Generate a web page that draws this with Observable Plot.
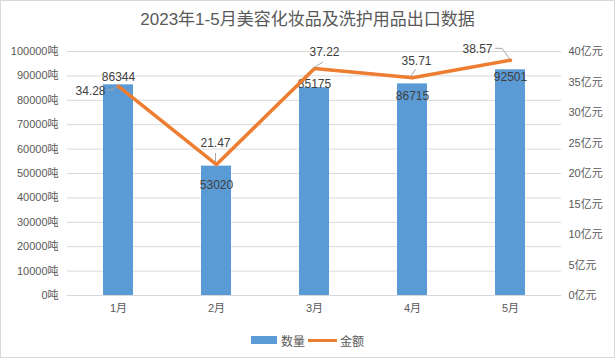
<!DOCTYPE html>
<html><head><meta charset="utf-8">
<script src="https://cdn.jsdelivr.net/npm/d3@7"></script>
<script src="https://cdn.jsdelivr.net/npm/@observablehq/plot@0.6"></script>
<style>
body{margin:0;background:#fff;}
#wrap{position:relative;width:615px;height:358px;overflow:hidden;font-family:"Liberation Sans","Noto Sans CJK SC",sans-serif;background:#fff;}
#frame{position:absolute;left:0;top:0;width:615px;height:358px;box-sizing:border-box;border:1px solid #d9d9d9;pointer-events:none;}
#title{height:40px;line-height:40px;text-align:center;font-size:17px;color:#595959;}
#chart svg{display:block;}
#legend{height:28px;display:flex;justify-content:center;align-items:center;font-size:12px;color:#595959;margin-top:-4px;}
.sw{display:inline-block;}
</style></head>
<body>
<div id="wrap">
  <div id="title">2023年1-5月美容化妆品及洗护用品出口数据</div>
  <div id="chart"></div>
  <div id="legend"><span class="sw" style="width:26px;height:8px;background:#5B9BD5;margin-right:4px"></span>数量<span class="sw" style="width:29px;height:3px;background:#ED7D31;margin:0 3px"></span>金额</div>
  <div id="frame"></div>
</div>
<script>
const months = ["1月", "2月", "3月", "4月", "5月"];
const quantity = [86344, 53020, 85175, 86715, 92501];
const amount = [34.28, 21.47, 37.22, 35.71, 38.57];
const leftTicks = [0, 10000, 20000, 30000, 40000, 50000, 60000, 70000, 80000, 90000, 100000];
const rightTicks = [0, 5, 10, 15, 20, 25, 30, 35, 40];

// label nudges (px) to mimic the reference label placement
const qtyDy = [-8, 19, -4, 12, 7];
const amtDx = [-28, -1, 10, 4, -33];
const amtDy = [5, -21, -16, -17, -11];
const leaders = [
  [[-11, 4], [-5, 4], [-1.5, 0]],
  [[-0.5, -11], [-0.5, -2]],
  [[-0.5, 0], [9, -6]],
  [[-1, -1], [3.5, -8]],
  [[-15, -11.4], [-8, -11.4], [0, -0.5]]
];

const K = 100000 / 40; // amount -> quantity scale factor
const table = months.map((m, i) => ({month: m, qty: quantity[i], amt: amount[i], i}));

const marks = [
  Plot.ruleY(leftTicks, {stroke: "#d9d9d9", strokeWidth: 1}),
  Plot.barY(table, {x: "month", y: "qty", fill: "#5B9BD5"}),
  ...table.map(d => Plot.text([d], {x: "month", y: "qty", text: d => String(d.qty), dy: qtyDy[d.i], fill: "#404040", fontSize: 12})),
  Plot.lineY(table, {x: "month", y: d => d.amt * K, stroke: "#ED7D31", strokeWidth: 3.5, strokeLinejoin: "round", strokeLinecap: "round"}),
  ...table.map(d => Plot.text([d], {x: "month", y: d => d.amt * K, text: d => d.amt.toFixed(2), dx: amtDx[d.i], dy: amtDy[d.i], fill: "#404040", fontSize: 12})),
  Plot.axisY({ticks: leftTicks, tickFormat: d => d + "吨", tickSize: 0, tickPadding: 9, label: null}),
  Plot.axisY({anchor: "right", ticks: rightTicks.map(v => v * K), tickFormat: d => (d / K) + "亿元", tickSize: 0, tickPadding: 7, label: null}),
  Plot.axisX({tickSize: 0, tickPadding: 9, label: null})
];

const chart = Plot.plot({
  width: 615,
  height: 290,
  marginTop: 11,
  marginBottom: 35,
  marginLeft: 67,
  marginRight: 54,
  style: {fontSize: "11px", fontFamily: '"Liberation Sans","Noto Sans CJK SC",sans-serif', color: "#595959", background: "transparent"},
  x: {domain: months, paddingInner: 0.69, paddingOuter: 0.345, align: 0.5},
  y: {domain: [0, 100000]},
  marks
});
document.getElementById("chart").append(chart);

// leader lines for the amount labels, positioned through Plot's scales
const sx = chart.scale("x"), sy = chart.scale("y");
const svg = d3.select(chart);
table.forEach(d => {
  const cx = sx.apply(d.month) + sx.bandwidth / 2;
  const cy = sy.apply(d.amt * K);
  svg.append("path")
    .attr("d", d3.line()(leaders[d.i].map(([a, b]) => [cx + a, cy + b])))
    .attr("fill", "none").attr("stroke", "#a6a6a6").attr("stroke-width", 1);
});
</script>
</body></html>
